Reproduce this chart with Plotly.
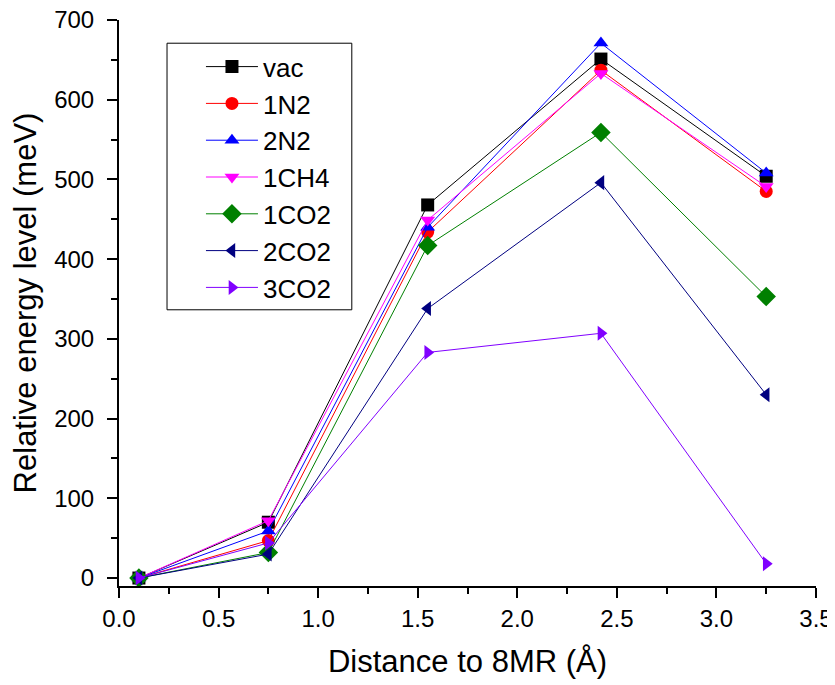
import plotly.graph_objects as go

distance = [0.1, 0.75, 1.55, 2.42, 3.25]
vac = [0, 70, 468, 651, 504]
n2_1 = [0, 47, 434, 637, 485]
n2_2 = [0, 59, 440, 671, 508]
ch4_1 = [0, 72, 449, 633, 491]
co2_1 = [0, 32, 417, 559, 353]
co2_2 = [0, 30, 338, 496, 230]
co2_3 = [0, 44, 283, 307, 18]

series = [
    ("vac", vac, "#000000", "square"),
    ("1N2", n2_1, "#FF0000", "circle"),
    ("2N2", n2_2, "#0000FF", "triangle-up"),
    ("1CH4", ch4_1, "#FF00FF", "triangle-down"),
    ("1CO2", co2_1, "#008000", "diamond"),
    ("2CO2", co2_2, "#000080", "triangle-left"),
    ("3CO2", co2_3, "#8000FF", "triangle-right"),
]

FONT = "Liberation Sans, Arial"

fig = go.Figure()
for name, ys, color, sym in series:
    fig.add_trace(go.Scatter(
        x=distance, y=ys, name=name,
        mode="lines+markers",
        line=dict(color=color, width=1),
        marker=dict(symbol=sym, size=13 if sym != "diamond" else 15, color=color),
    ))

axis_common = dict(
    showline=True, linecolor="black", linewidth=2,
    ticks="outside", ticklen=10, tickwidth=2, tickcolor="black",
    showgrid=False, zeroline=False, automargin=False,
    ticklabeloverflow="allow",
    tickfont=dict(family=FONT, size=24, color="black"),
)

fig.update_xaxes(
    range=[0, 3.5], dtick=0.5, tick0=0, tickformat=".1f",
    minor=dict(ticks="outside", ticklen=6, tickwidth=2, tickcolor="black", dtick=0.25),
    title=dict(text="Distance to 8MR (Å)", font=dict(family=FONT, size=31, color="black"), standoff=20),
    **axis_common,
)
fig.update_yaxes(
    range=[-10, 700], dtick=100, tick0=0,
    ticklabelstandoff=8,
    minor=dict(ticks="outside", ticklen=6, tickwidth=2, tickcolor="black", dtick=50),
    title=dict(text="Relative energy level (meV)", font=dict(family=FONT, size=31, color="black"), standoff=14),
    **axis_common,
)

# legend frame
fig.add_shape(type="rect", xref="paper", yref="paper",
              x0=0.0689, x1=0.334, y0=0.488, y1=0.959,
              line=dict(color="black", width=1), fillcolor="white", layer="below")

fig.update_layout(
    width=835, height=685,
    margin=dict(l=111, r=27, t=12, b=107),
    plot_bgcolor="white", paper_bgcolor="white",
    legend=dict(
        x=0.1176, y=0.959, xanchor="left", yanchor="top",
        borderwidth=0, bgcolor="rgba(0,0,0,0)",
        font=dict(family=FONT, size=26, color="black"),
        itemwidth=52,
    ),
    showlegend=True,
)

fig.write_html("out.html")
